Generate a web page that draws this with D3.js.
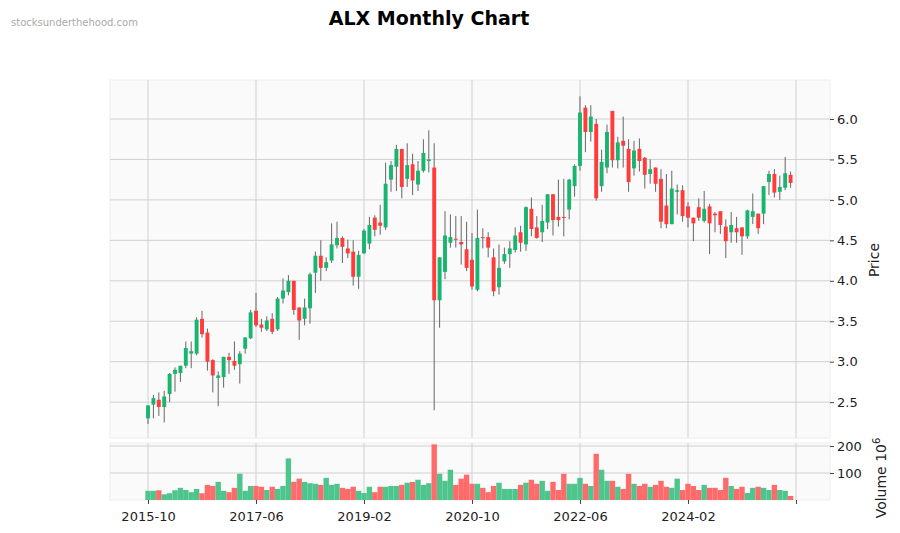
<!DOCTYPE html>
<html><head><meta charset="utf-8">
<script src="https://cdn.jsdelivr.net/npm/d3@7/dist/d3.min.js"></script>
<style>body{margin:0;background:#fff}text{font-family:"DejaVu Sans",sans-serif}</style>
</head><body><svg id="c" width="900" height="533"></svg>
<script>
const startYear = 2015, startMonth = 10;
const opens  = [2.30,2.47,2.53,2.44,2.60,2.85,2.86,2.95,3.10,3.10,3.53,3.36,3.02,2.80,2.81,3.06,3.01,2.97,3.16,3.29,3.63,3.46,3.40,3.53,3.40,3.78,3.86,4.00,3.67,3.53,3.66,4.10,4.31,4.16,4.25,4.44,4.53,4.40,4.36,4.05,4.34,4.46,4.78,4.72,4.66,5.25,5.41,5.63,5.26,5.44,5.19,5.36,5.48,5.40,3.76,4.11,4.47,4.52,4.48,4.39,4.26,3.89,4.54,4.54,4.29,3.92,4.24,4.33,4.38,4.60,4.45,4.89,4.66,4.60,4.72,5.07,4.79,4.79,4.88,5.17,5.42,6.14,5.84,5.94,5.17,5.40,6.10,5.49,5.73,5.63,5.39,5.63,5.52,5.32,5.40,5.26,4.93,4.70,5.10,5.12,4.92,4.78,4.91,4.74,4.92,4.83,4.86,4.67,4.60,4.65,4.66,4.55,4.79,4.83,4.83,5.22,5.32,5.10,5.15,5.31];
const highs  = [2.46,2.59,2.62,2.64,2.86,2.93,2.95,3.25,3.25,3.55,3.63,3.41,3.03,2.88,3.06,3.11,3.25,3.13,3.30,3.64,3.85,3.53,3.56,3.60,3.80,4.03,4.07,4.00,3.67,3.78,4.10,4.36,4.50,4.29,4.71,4.73,4.55,4.51,4.50,4.37,4.64,4.79,4.81,4.94,5.46,5.48,5.68,5.63,5.70,5.57,5.48,5.75,5.86,5.70,4.29,4.86,4.82,4.80,4.80,4.73,4.59,4.88,4.65,4.60,4.40,4.45,4.41,4.49,4.66,4.68,4.92,5.03,4.80,4.94,5.07,5.07,5.25,5.26,5.26,5.44,6.28,6.17,6.17,6.00,5.62,5.93,6.10,5.78,6.03,5.75,5.73,5.76,5.53,5.50,5.40,5.38,5.32,5.36,5.19,5.18,4.97,4.78,5.02,5.11,4.95,4.85,4.86,4.76,4.85,4.79,4.66,4.88,5.08,4.83,5.17,5.36,5.38,5.30,5.53,5.35];
const lows   = [2.23,2.30,2.33,2.25,2.50,2.63,2.75,2.92,2.92,3.08,3.30,2.89,2.62,2.45,2.68,2.85,2.90,2.73,3.10,3.28,3.43,3.37,3.38,3.34,3.38,3.72,3.82,3.58,3.27,3.45,3.47,3.85,4.00,4.12,4.22,4.40,4.22,4.28,3.94,3.90,4.33,4.39,4.55,4.57,4.63,5.10,5.11,5.02,5.16,5.06,5.11,5.34,5.34,2.40,3.42,4.02,4.41,4.41,4.20,4.12,3.89,3.87,4.40,4.29,3.81,3.83,4.21,4.16,4.35,4.36,4.37,4.55,4.52,4.48,4.64,4.56,4.67,4.55,4.76,5.04,5.36,5.59,5.72,4.99,5.10,5.33,5.40,5.39,5.40,5.10,5.30,5.35,5.14,5.20,5.10,4.65,4.65,4.70,4.82,4.73,4.66,4.49,4.74,4.72,4.33,4.60,4.58,4.28,4.47,4.47,4.32,4.52,4.70,4.58,4.70,5.06,5.03,5.00,5.12,5.15];
const closes = [2.46,2.55,2.44,2.57,2.85,2.90,2.95,3.17,3.13,3.52,3.34,3.00,2.83,2.83,3.06,3.02,2.95,3.10,3.30,3.61,3.45,3.42,3.51,3.37,3.78,3.88,4.00,3.64,3.51,3.67,4.08,4.31,4.16,4.23,4.45,4.53,4.42,4.34,4.05,4.32,4.62,4.69,4.63,4.68,5.20,5.43,5.63,5.16,5.43,5.24,5.36,5.58,5.50,3.76,4.29,4.56,4.54,4.51,4.45,4.16,3.93,4.53,4.53,4.41,3.87,4.16,4.33,4.40,4.56,4.47,4.91,4.64,4.53,4.74,5.07,4.75,4.75,4.78,5.25,5.42,6.08,5.84,6.03,5.02,5.47,5.84,5.49,5.71,5.67,5.22,5.61,5.48,5.31,5.38,5.20,4.73,4.70,5.14,5.12,4.80,4.78,4.71,4.78,4.89,4.71,4.81,4.69,4.49,4.69,4.60,4.55,4.87,4.86,4.65,5.17,5.32,5.09,5.16,5.33,5.21];
const volumes = [34,34,36,21,25,36,45,37,29,41,25,56,52,67,34,29,45,97,34,52,52,49,37,49,41,52,154,67,79,67,62,60,56,82,56,60,45,41,49,34,26,49,29,49,49,52,52,56,64,67,75,56,62,206,97,71,112,56,79,94,60,60,45,29,52,64,41,41,41,56,64,75,60,71,34,67,37,97,60,60,82,60,52,171,112,71,71,49,41,97,60,52,60,49,56,71,49,45,79,37,60,52,37,56,45,45,37,82,52,41,49,26,45,49,45,37,56,37,34,15];
const tickIdx = [0,20,40,60,80,100,120];
const priceTicks = [2.5,3.0,3.5,4.0,4.5,5.0,5.5,6.0];
const volTicks = [100,200];

const label = i => { const m = startMonth - 1 + i; return `${startYear + Math.floor(m/12)}-${String(m%12+1).padStart(2,'0')}`; };
const svg = d3.select('#c');
const L = 110, R = 830, pT = 80, pB = 438, vT = 443, vB = 500;
const x = d3.scaleLinear().domain([-7.04, 126.3]).range([L, R]);
const y = d3.scaleLinear().domain([2.057, 6.482]).range([pB, pT]);
const yv = d3.scaleLinear().domain([0, 211]).range([vB, vT]);
const G = '#19b46f', Rd = '#ff3b3b', Gv = '#4dc58d', Rv = '#ff6b6b';
const bw = 3.9;
const idx = d3.range(opens.length);

svg.append('rect').attr('x',L).attr('y',pT).attr('width',R-L).attr('height',pB-pT).attr('fill','#fafafa').attr('stroke','#eee');
svg.append('rect').attr('x',L).attr('y',vT).attr('width',R-L).attr('height',vB-vT).attr('fill','#fafafa').attr('stroke','#eee');

// grid
svg.append('g').selectAll('line').data(priceTicks).join('line')
  .attr('x1',L).attr('x2',R).attr('y1',d=>y(d)).attr('y2',d=>y(d)).attr('stroke','#d0d0d0');
svg.append('g').selectAll('line').data(volTicks).join('line')
  .attr('x1',L).attr('x2',R).attr('y1',d=>yv(d)).attr('y2',d=>yv(d)).attr('stroke','#d0d0d0');
svg.append('g').selectAll('line').data(tickIdx).join('line')
  .attr('x1',d=>x(d)).attr('x2',d=>x(d)).attr('y1',pT).attr('y2',pB).attr('stroke','#d0d0d0');
svg.append('g').selectAll('line').data(tickIdx).join('line')
  .attr('x1',d=>x(d)).attr('x2',d=>x(d)).attr('y1',vT).attr('y2',vB).attr('stroke','#d0d0d0');

// candles
const up = i => closes[i] >= opens[i];
svg.append('g').selectAll('line').data(idx).join('line')
  .attr('x1',i=>x(i)).attr('x2',i=>x(i)).attr('y1',i=>y(highs[i])).attr('y2',i=>y(lows[i]))
  .attr('stroke','#666').attr('stroke-width',1);
svg.append('g').selectAll('rect').data(idx).join('rect')
  .attr('x',i=>x(i)-bw/2).attr('width',bw)
  .attr('y',i=>y(Math.max(opens[i],closes[i])))
  .attr('height',i=>Math.max(1,Math.abs(y(opens[i])-y(closes[i]))))
  .attr('fill',i=>up(i)?G:Rd);
// volume
svg.append('g').selectAll('rect').data(idx).join('rect')
  .attr('x',i=>x(i)-2.7).attr('width',5.4)
  .attr('y',i=>yv(volumes[i])).attr('height',i=>vB-yv(volumes[i]))
  .attr('fill',i=>up(i)?Gv:Rv);

// axes
const ya = svg.append('g').attr('transform',`translate(${R},0)`).call(d3.axisRight(y).tickValues(priceTicks).tickFormat(d3.format('.1f')).tickSize(4));
const va = svg.append('g').attr('transform',`translate(${R},0)`).call(d3.axisRight(yv).tickValues(volTicks).tickSize(4));
const xa = svg.append('g').attr('transform',`translate(0,${vB})`).call(d3.axisBottom(x).tickValues(tickIdx).tickFormat(i=>i<120?label(i):'').tickSize(4));
[ya,va,xa].forEach(a=>{a.select('.domain').remove();a.selectAll('text').attr('font-size',13).attr('fill','#222');a.selectAll('line').attr('stroke','#444');});
xa.selectAll('text').attr('dy','1.1em');

svg.append('text').attr('transform','translate(879,260) rotate(-90)').attr('text-anchor','middle').attr('font-size',14).attr('fill','#222').text('Price');
svg.append('text').attr('transform','translate(886,478) rotate(-90)').attr('text-anchor','middle').attr('font-size',14).attr('fill','#222')
  .html('Volume  10<tspan dy="-6" font-size="10">6</tspan>');
svg.append('text').attr('x',429).attr('y',25).attr('text-anchor','middle').attr('font-size',19).attr('font-weight','bold').attr('fill','#000').text('ALX Monthly Chart');
svg.append('text').attr('x',11).attr('y',26).attr('font-size',10).attr('fill','#aaa').text('stocksunderthehood.com');
</script></body></html>
